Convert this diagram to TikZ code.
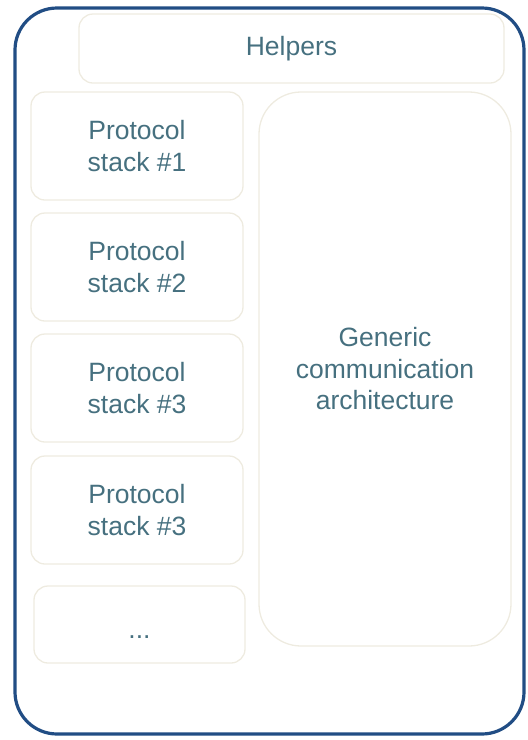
\documentclass[tikz,border=0pt]{standalone}
\usepackage{fontspec}
\setmainfont{Liberation Sans}
\usepackage{tikz}
\usetikzlibrary{positioning}
\definecolor{framecol}{RGB}{33,77,132}
\definecolor{boxcol}{RGB}{238,235,224}
\definecolor{textcol}{RGB}{70,112,127}

\begin{document}
\begin{tikzpicture}[x=1pt, y=-1pt,
  part/.style={draw=boxcol, line width=1.3pt, rounded corners=14pt, text=textcol,
    align=center, inner sep=0pt, font=\fontsize{26.5}{31.5}\selectfont},
  stackbox/.style={part, minimum width=212pt, minimum height=108pt}]

\useasboundingbox (0,0) rectangle (528,740);

\draw[framecol, line width=3.2pt, rounded corners=42pt] (15,8) rectangle (524,734);

\node[part, minimum width=425pt, minimum height=69pt] (helpers) at (291.5,48.5) {Helpers};

\node[stackbox] (stack1) at (137,146) {Protocol\\stack \#1};
\node[stackbox] (stack2) at (137,267) {Protocol\\stack \#2};
\node[stackbox] (stack3) at (137,388) {Protocol\\stack \#3};
\node[stackbox] (stack4) at (137,510) {Protocol\\stack \#3};
\node[part, minimum width=211pt, minimum height=77pt, text height=28pt, text depth=0pt] (more) at (139.5,624.5) {...};

\node[part, rounded corners=42pt, minimum width=252pt, minimum height=554pt] (generic) at (385,369)
  {Generic\\communication\\architecture};

\end{tikzpicture}
\end{document}
